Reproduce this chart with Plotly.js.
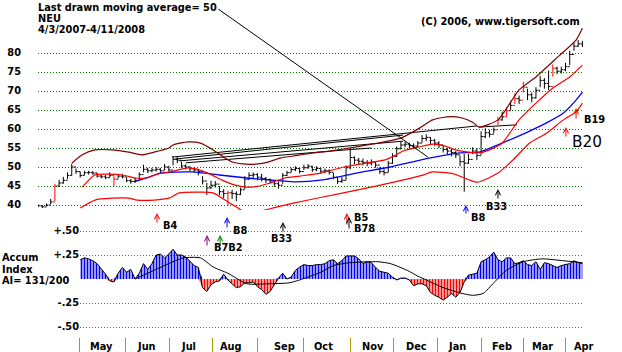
<!DOCTYPE html>
<html><head><meta charset="utf-8">
<script src="https://cdn.plot.ly/plotly-3.0.1.min.js"></script>
<style>html,body{margin:0;padding:0;background:#fff}#chart{width:622px;height:352px}</style>
</head><body><div id="chart"></div>
<script>
// ---- price bars (one bar every 2 trading days, 4/3/2007 .. 4/11/2008) ----
const closeP = [39.8,39.5,40.0,40.8,45.0,45.8,46.5,47.8,50.0,48.8,
 47.8,48.5,48.6,48.4,47.6,47.4,47.2,47.8,46.8,47.6,
 47.4,46.4,46.2,46.5,48.0,49.4,49.0,49.2,49.4,49.0,
 50.0,49.2,52.0,51.8,50.3,50.0,49.5,49.2,48.8,46.3,
 44.5,45.2,45.5,43.5,43.0,43.2,43.0,42.8,44.0,46.8,
 47.8,48.0,47.3,47.0,46.6,46.3,45.6,45.2,47.8,48.5,
 49.3,49.6,48.8,49.8,50.2,49.3,49.6,48.9,49.0,48.6,
 47.3,46.2,46.5,49.8,52.5,51.8,51.5,51.2,51.0,51.3,
 50.5,48.8,48.5,51.0,52.8,54.8,55.8,56.0,55.6,55.5,
 56.3,57.5,57.8,57.0,56.3,55.8,54.6,54.2,53.8,53.2,
 51.4,51.0,52.0,54.2,53.0,58.0,59.0,58.6,59.8,62.4,
 63.2,64.8,66.2,68.0,67.6,71.0,69.0,68.2,70.2,72.8,
 72.0,71.2,76.0,75.2,75.6,76.4,79.6,81.8,82.4,82.2];
const highP = [40.2,40.0,40.4,41.6,45.6,46.6,47.4,48.6,50.8,49.6,
 48.8,49.0,49.0,48.9,48.5,48.0,47.9,48.6,47.6,48.2,
 48.2,47.3,46.9,47.2,48.6,50.6,49.8,49.8,50.0,49.7,
 50.8,50.3,52.8,52.6,51.4,50.7,50.2,49.9,49.5,47.6,
 45.8,46.4,46.3,45.0,44.2,43.8,44.0,43.6,44.6,47.6,
 48.6,48.6,48.4,48.2,47.4,47.0,46.6,46.2,48.4,49.0,
 49.8,50.2,49.8,50.6,50.8,50.3,50.2,49.7,49.6,49.4,
 48.4,47.4,47.3,50.4,55.0,52.8,52.4,52.2,51.8,52.0,
 51.4,50.0,49.4,51.6,53.6,55.4,56.6,56.8,56.4,56.2,
 56.8,58.4,58.6,57.8,57.4,56.8,55.6,55.0,55.0,54.2,
 53.0,53.4,53.4,55.2,55.0,59.4,60.2,59.8,60.4,63.2,
 64.6,65.8,67.4,69.4,68.8,72.4,70.6,69.6,71.0,74.0,
 73.4,75.4,77.0,76.4,76.4,77.4,80.6,82.8,83.4,83.2];
const lowP = [39.4,39.2,39.6,40.2,41.0,44.8,45.6,46.8,47.8,48.2,
 47.2,47.8,48.0,47.9,47.2,47.0,46.8,47.3,45.0,47.0,
 47.0,46.0,45.6,45.8,46.6,48.6,48.4,48.6,48.8,48.4,
 49.2,48.8,50.4,51.0,49.8,49.4,48.9,48.6,47.8,45.4,
 42.6,44.2,44.6,42.6,41.8,39.8,41.6,41.0,42.6,44.2,
 46.6,46.8,46.5,46.2,45.8,45.6,44.8,44.3,45.6,47.6,
 48.6,48.9,48.3,49.2,49.5,48.7,48.9,48.3,48.4,48.0,
 46.8,45.5,45.8,46.6,49.4,50.8,50.6,50.4,50.2,50.4,
 49.8,48.2,47.8,48.6,50.8,52.6,54.6,55.2,54.8,54.8,
 55.2,56.4,56.8,56.0,55.6,55.0,53.8,53.4,52.8,52.4,
 50.2,43.5,50.8,53.4,51.8,53.2,57.6,57.8,58.8,61.0,
 62.2,63.2,65.0,66.6,66.6,69.6,67.6,67.0,68.0,71.0,
 70.6,70.2,73.8,74.4,74.6,75.2,76.8,80.6,81.6,81.6];
const redBars = [4,18,45,109,111,113,115,122];
const dayStep = 2;           // trading days between plotted bars

// ---- bands / moving average (x in trading days) ----
const upperX = [16,21,27,35,43,49,55,62,64,71,77,83,88,92,97,104,109,115,121,129,138,151,164,172,181,187,194,201,206,209,218,228,236,247,255,258];
const upperY = [51.0,53.2,54.5,54.5,53.9,53.2,53.9,55.0,55.8,56.6,56.3,54.5,52.6,51.3,50.8,50.8,51.3,52.4,52.9,53.6,54.2,55.3,56.6,57.6,60.3,62.4,63.2,62.9,61.8,60.5,62.4,70.3,73.7,79.3,83.4,86.5];
const midX = [21,27,40,46,51,57,63,70,75,82,87,93,99,104,110,117,124,134,145,155,164,169,173,180,187,193,198,204,209,214,220,228,236,244,252,258];
const midY = [44.7,47.9,47.9,47.1,47.1,48.2,48.7,49.7,49.5,48.0,46.6,45.3,44.7,44.9,45.8,47.1,47.6,48.4,50.0,51.0,51.8,53.0,54.2,55.2,56.0,55.5,54.5,53.9,53.7,54.5,56.3,62.4,66.8,70.8,73.7,76.8];
const ma50X = [46,52,58,73,86,99,110,121,135,151,167,186,200,209,220,232,241,249,255,258];
const ma50Y = [46.2,47.2,48.4,48.7,47.9,47.1,46.6,46.1,46.6,48.4,50.0,52.4,53.7,53.9,56.3,59.2,61.6,64.2,67.6,69.7];
const lowerX = [20,27,35,43,47,55,62,67,77,83,90,94,100,107,112,121,135,151,167,182,187,197,208,218,225,233,241,249,255,258];
const lowerY = [39.2,41.3,41.8,41.8,41.3,41.3,41.8,43.2,43.4,43.2,40.8,39.5,37.6,38.6,39.3,40.5,42.1,43.9,45.8,47.8,48.7,48.2,46.0,48.4,51.8,56.3,58.9,62.4,64.5,66.8];
const fanX = [63.5,208,null,65,173,null,67,173,null,70,146,null,146,158,null,209,227];
const fanY = [52.6,60.8,null,52.1,58.4,null,51.6,56.8,null,51.1,54.5,null,54.5,55.0,null,60.5,61.1];

// ---- Accumulation index (from bar 10 on) ----
const aiStartBar = 10;
const aiVals = [.20,.22,.21,.19,.16,.11,.05,-.02,-.03,.06,
 .12,.07,.10,.00,.06,.16,.10,.16,.25,.26,
 .22,.26,.31,.25,.25,.23,.18,.14,.12,-.09,
 -.13,-.06,-.03,-.02,.05,-.01,-.05,-.09,-.08,-.04,
 -.04,-.03,-.08,-.11,-.16,-.13,-.06,.01,.06,.00,
 .02,.09,.125,.15,.14,.14,.15,.15,.16,.19,
 .20,.16,.19,.24,.24,.24,.21,.16,.18,.17,
 .12,.08,.07,.06,.02,-.01,.01,.01,-.01,-.07,
 -.05,-.05,-.07,-.14,-.17,-.19,-.22,-.19,-.15,-.19,
 -.14,-.03,.04,.05,.06,.18,.20,.23,.28,.20,
 .18,.22,.22,.16,.17,.19,.15,.14,.18,.10,
 .17,.16,.14,.12,.14,.15,.16,.19,.17,.16];
const aiMaX = [46,53,64,69,77,83,90,99,109,119,124,134,140,148,161,167,175,180,184,192,201,206,211,216,222,230,239,249,258];
const aiMaY = [0.0,0.07,0.18,0.22,0.22,0.125,0.06,-0.05,-0.05,-0.04,-0.01,0.07,0.14,0.17,0.18,0.16,0.09,0.03,-0.01,-0.09,-0.15,-0.17,-0.15,-0.04,0.09,0.18,0.21,0.19,0.17];

// ---- ticks ----
const priceTicks = [40,45,50,55,60,65,70,75,80];
const aiTicks = [0.5,0.25,-0.25,-0.5];
const aiTickText = ['+.50','+.25','-.25','-.50'];
const monthNames = ['May','Jun','Jul','Aug','Sep','Oct','Nov','Dec','Jan','Feb','Mar','Apr'];
const monthStarts = [19.9,41.7,62.1,82.9,103.8,125.6,148.3,168.7,189.1,210.0,229.9,249.8];
const monthMids = [29.9,51.2,71.1,91.5,116.6,135.1,158.8,179.6,198.6,219.9,239.3,258.8];

// ---- signals ----
const signals = [
 {d:56.4, top:213, len:11, c:'#ff0000'},
 {d:89.6, top:217, len:12, c:'#0000ff'},
 {d:80.1, top:235, len:12, c:'#800080'},
 {d:86.3, top:235, len:12, c:'#008000'},
 {d:116.1, top:222, len:11, c:'#000000'},
 {d:146.4, top:213, len:13, c:'#ff0000'},
 {d:147.4, top:217, len:13, c:'#000000'},
 {d:202.8, top:205, len:10, c:'#0000ff'},
 {d:218.0, top:189, len:11, c:'#000000'},
 {d:255.0, top:108, len:12, c:'#ff0000'},
 {d:250.2, top:127, len:11, c:'#ff0000'}
];
const sigLabels = [
 {d:62.6, y:225, t:'B4', a:'center'},
 {d:95.7, y:230, t:'B8', a:'center'},
 {d:82.9, y:247, t:'B7B2', a:'left'},
 {d:115.2, y:238, t:'B33', a:'center'},
 {d:149.3, y:217, t:'B5', a:'left'},
 {d:149.3, y:229, t:'B78', a:'left'},
 {d:208.5, y:217, t:'B8', a:'center'},
 {d:217.1, y:207, t:'B33', a:'center'},
 {d:258.3, y:120, t:'B19', a:'left'}
];

// ---------------- build ----------------
const H = 352, L = 38, PW = 545, PXD = 2.11;
const yp = py => 1 - py/H;
const xp = px => (px - L)/PW;
const dp = d => d*PXD/PW;
const FAM = 'DejaVu Sans, Verdana, sans-serif';
const F = {family:FAM, size:9.8, color:'#000', weight:700};

const bx = closeP.map((_, k) => k*dayStep);
const openP = closeP.map((c, k) => k === 0 ? c : closeP[k-1]);
const isRed = k => redBars.indexOf(k) >= 0;
function pick(arr, red){ return arr.filter((_, k) => isRed(k) === red); }

const aiX = aiVals.map((_, j) => (j + aiStartBar)*dayStep);
const aiPos = aiVals.map(v => Math.max(v, 0));
const aiNeg = aiVals.map(v => Math.min(v, 0));

const line = (x, y, color, w, shape) => ({type:'scatter', mode:'lines', x, y, xaxis:'x', yaxis:'y',
  line:{color, width:w, shape: shape || 'spline', smoothing:0.6}, hoverinfo:'skip'});

const ohlc = (red) => ({type:'ohlc', x:pick(bx, red), open:pick(openP, red), high:pick(highP, red),
  low:pick(lowP, red), close:pick(closeP, red), xaxis:'x', yaxis:'y', tickwidth:0.45,
  increasing:{line:{color: red ? '#ff0000' : '#000000', width:1}},
  decreasing:{line:{color: red ? '#ff0000' : '#000000', width:1}}, hoverinfo:'skip'});

const pat = c => ({shape:'|', size:3, solidity:0.6, fgcolor:c, bgcolor:'rgba(255,255,255,0)', fillmode:'replace'});

const traces = [
  line(fanX, fanY, '#000000', 1, 'linear'),
  line(upperX, upperY, '#800000', 1.2),
  line(lowerX, lowerY, '#ff0000', 1.2),
  line(ma50X, ma50Y, '#0000ff', 1.3),
  line(midX, midY, '#ff0000', 1.2),
  ohlc(false), ohlc(true),
  {type:'scatter', mode:'lines', x:aiX, y:aiPos, xaxis:'x3', yaxis:'y2', fill:'tozeroy',
   line:{width:0, color:'rgba(0,0,255,0)'}, fillcolor:'rgba(0,0,0,0)', fillpattern:pat('#0000ff'), hoverinfo:'skip'},
  {type:'scatter', mode:'lines', x:aiX, y:aiNeg, xaxis:'x3', yaxis:'y2', fill:'tozeroy',
   line:{width:0, color:'rgba(255,0,0,0)'}, fillcolor:'rgba(0,0,0,0)', fillpattern:pat('#ff0000'), hoverinfo:'skip'},
  {type:'scatter', mode:'lines', x:aiX, y:aiVals, xaxis:'x3', yaxis:'y2', line:{color:'#000', width:1}, hoverinfo:'skip'},
  {type:'scatter', mode:'lines', x:aiMaX, y:aiMaY, xaxis:'x3', yaxis:'y2', line:{color:'#000', width:1, shape:'spline', smoothing:0.6}, hoverinfo:'skip'}
];

const ann = [];
const txt = (x, y, t, extra) => ann.push(Object.assign({xref:'paper', yref:'paper', x, y, text:t, showarrow:false,
  xanchor:'left', yanchor:'middle', font:F, borderpad:0}, extra || {}));
txt(xp(37), yp(7), 'Last drawn moving average= 50');
txt(xp(37), yp(18.5), 'NEU');
txt(xp(37), yp(30), '4/3/2007-4/11/2008');
txt(xp(420), yp(21), '(C) 2006, www.tigersoft.com');
txt(xp(1), yp(257.5), 'Accum');
txt(xp(1), yp(269), 'Index');
txt(xp(1), yp(280.5), 'AI= 131/200');
// pointer line from the title to the 50-day average
ann.push({xref:'x', yref:'y', x:184.8, y:52.6, ax:-211, ay:-149, text:'', showarrow:true,
  arrowhead:0, arrowwidth:1, arrowcolor:'#000'});
monthNames.forEach((m, j) => ann.push({xref:'paper', yref:'paper', x:dp(monthMids[j]), y:yp(346), text:m,
  showarrow:false, xanchor:'center', yanchor:'middle', font:F, borderpad:0}));
signals.forEach(s => ann.push({xref:'x', yref:'paper', x:s.d, y:yp(s.top), ax:0, ay:s.len, text:'',
  showarrow:true, arrowhead:5, arrowsize:1, arrowwidth:1, arrowcolor:s.c}));
sigLabels.forEach(s => ann.push({xref:'paper', yref:'paper', x:dp(s.d), y:yp(s.y), text:s.t, showarrow:false,
  xanchor:s.a, yanchor:'middle', font:F, borderpad:0}));
ann.push({xref:'paper', yref:'paper', x:dp(252.8), y:yp(142), text:'B20', showarrow:false, xanchor:'left',
  yanchor:'middle', borderpad:0, font:{family:FAM, size:15.3, color:'#000'}});

const layout = {
  width:622, height:352, margin:{l:L, r:622-L-PW, t:0, b:0},
  paper_bgcolor:'#fff', plot_bgcolor:'rgba(0,0,0,0)', showlegend:false, hovermode:false,
  xaxis:{domain:[0,1], range:[0, PW/PXD], anchor:'y', showgrid:false, zeroline:false, showline:false,
    ticks:'', showticklabels:false, rangeslider:{visible:false}},
  yaxis:{domain:[yp(210), yp(20)], range:[38.684, 88.684], anchor:'x', tickmode:'array', tickvals:priceTicks,
    showgrid:true, gridcolor:'#008000', griddash:'1px,2px', gridwidth:1, zeroline:false, showline:false,
    ticks:'', ticklabelstandoff:16, tickfont:F},
  xaxis3:{domain:[xp(80),1], range:[(80-L)/PXD, PW/PXD], anchor:'y2', showgrid:false, zeroline:false,
    showline:false, tickmode:'array', tickvals:monthStarts, ticks:'outside', ticklen:15, tickwidth:1,
    tickcolor:'#a0a000', showticklabels:false, rangeslider:{visible:false}},
  yaxis2:{domain:[yp(337), yp(228)], range:[(279-337)/96, (279-228)/96], anchor:'x3', tickmode:'array',
    tickvals:aiTicks, ticktext:aiTickText, showgrid:true, gridcolor:'#a04080', griddash:'1px,2px',
    gridwidth:1, zeroline:false, showline:false, ticks:'', tickfont:F},
  annotations:ann
};
Plotly.newPlot('chart', traces, layout, {staticPlot:true, displayModeBar:false});
</script></body></html>
